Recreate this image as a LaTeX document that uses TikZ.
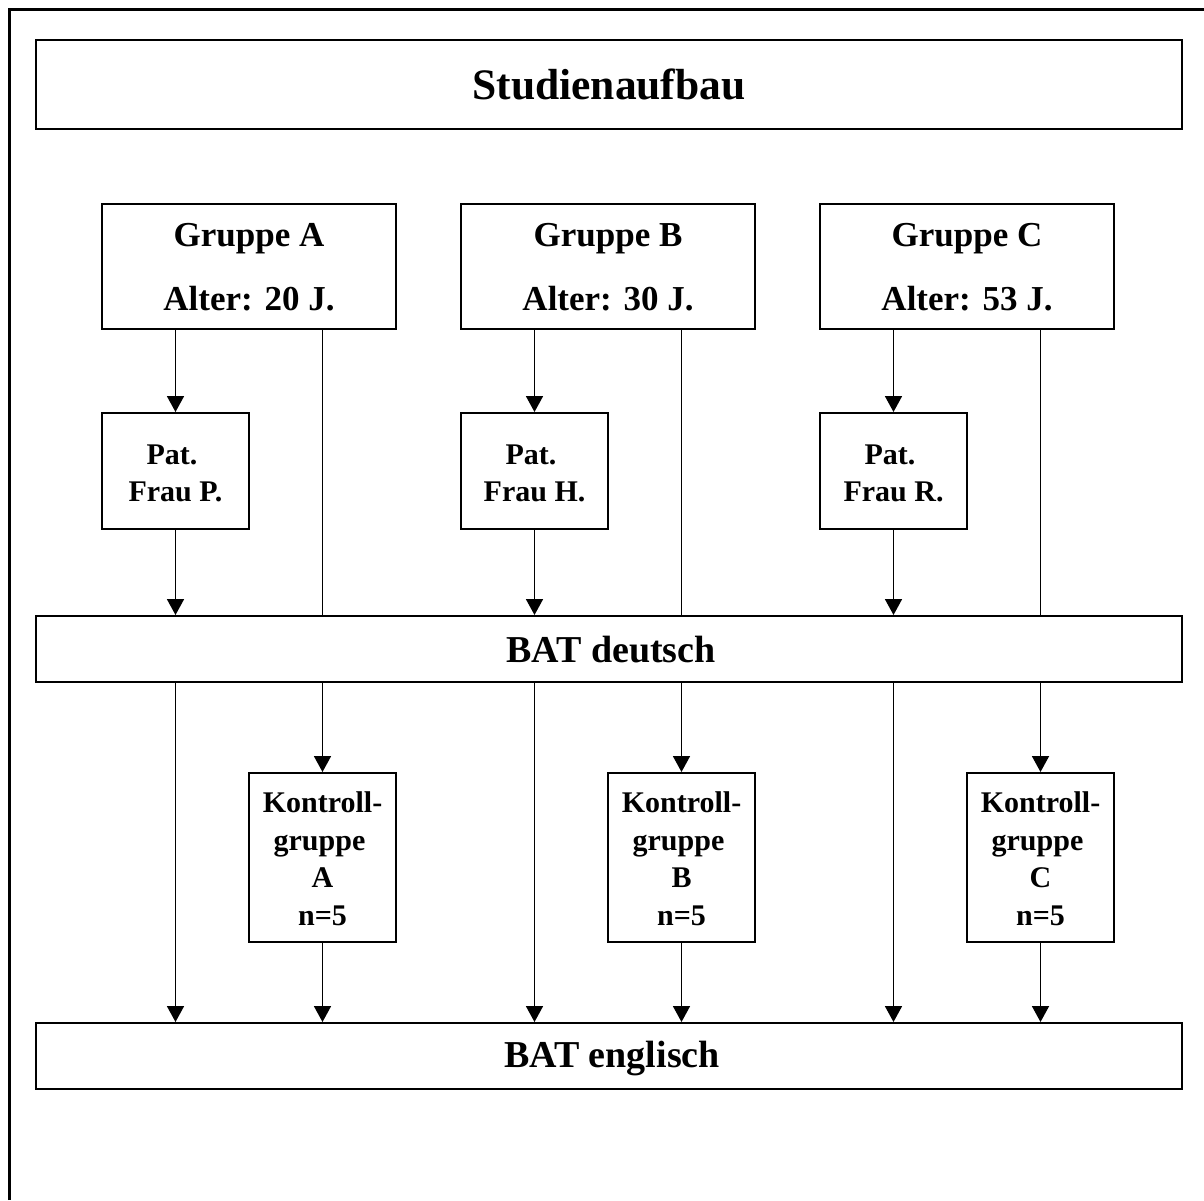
\documentclass[tikz,border=0pt]{standalone}
\usepackage{fontspec}
\setmainfont{Liberation Serif}
\usetikzlibrary{arrows.meta}
\begin{document}
\begin{tikzpicture}[x=1pt,y=-1pt,
  box/.style={draw, rectangle, line width=2pt, inner sep=0pt, fill=white},
  txt/.style={anchor=base, inner sep=0pt, font=\bfseries},
  conn/.style={line width=1.8pt},
  arr/.style={line width=1.8pt, -{Triangle[length=16pt,width=17pt]}},
  wide/.style={box, minimum width=1146pt, minimum height=66pt},
  grp/.style={box, minimum width=294pt, minimum height=125pt},
  pat/.style={box, minimum width=147pt, minimum height=116pt},
  ktr/.style={box, minimum width=147pt, minimum height=169pt},
  ftitle/.style={font=\bfseries\fontsize{43.5}{50}\selectfont},
  fbat/.style={font=\bfseries\fontsize{38}{44}\selectfont},
  fgrp/.style={font=\bfseries\fontsize{35}{40}\selectfont},
  fsmall/.style={font=\bfseries\fontsize{30}{36}\selectfont}
]
\useasboundingbox (0,0) rectangle (1204,1200);
\fill[white] (0,0) rectangle (1204,1200);
% outer frame (only top and left visible)
\coordinate (fTL) at (9,9);
\coordinate (fTR) at (1204,9);
\coordinate (fBL) at (9,1200);
\draw[line width=3pt] (fBL) -- (fTL) -- (fTR);

% boxes
\node[box, minimum width=1146pt, minimum height=89pt] (title) at (609,84.5) {};
\node[grp] (gA) at (249,266.5) {};
\node[grp] (gB) at (608,266.5) {};
\node[grp] (gC) at (967,266.5) {};
\node[pat] (pA) at (175.5,471) {};
\node[pat] (pB) at (534.5,471) {};
\node[pat] (pC) at (893.5,471) {};
\node[wide] (bd) at (609,649) {};
\node[ktr] (kA) at (322.5,857.5) {};
\node[ktr] (kB) at (681.5,857.5) {};
\node[ktr] (kC) at (1040.5,857.5) {};
\node[wide] (be) at (609,1056) {};

% texts
\node[txt, ftitle] (tTitle) at (609,99) {Studienaufbau};
\node[txt, fgrp] (tgA1) at (249,246) {Gruppe A};
\node[txt, fgrp] (tgA2) at (249,310) {Alter: 20 J.};
\node[txt, fgrp] (tgB1) at (608,246) {Gruppe B};
\node[txt, fgrp] (tgB2) at (608,310) {Alter: 30 J.};
\node[txt, fgrp] (tgC1) at (967,246) {Gruppe C};
\node[txt, fgrp] (tgC2) at (967,310) {Alter: 53 J.};
\node[txt, fsmall] (tpA1) at (172,464) {Pat.};
\node[txt, fsmall] (tpA2) at (175.5,501) {Frau P.};
\node[txt, fsmall] (tpB1) at (531,464) {Pat.};
\node[txt, fsmall] (tpB2) at (534.5,501) {Frau H.};
\node[txt, fsmall] (tpC1) at (890,464) {Pat.};
\node[txt, fsmall] (tpC2) at (893.5,501) {Frau R.};
\node[txt, fbat] (tbd) at (611,662) {BAT deutsch};
\node[txt, fbat] (tbe) at (612,1067) {BAT englisch};
\foreach \k/\x/\l in {kA/322.5/A, kB/681.5/B, kC/1040.5/C}{
  \node[txt, fsmall] (t\k1) at (\x,812) {Kontroll-};
  \node[txt, fsmall] (t\k2) at (\x-3,850.5) {gruppe};
  \node[txt, fsmall] (t\k3) at (\x,887.5) {\l};
  \node[txt, fsmall] (t\k4) at (\x,925) {n=5};
}

% connectors
\foreach \g/\p/\k in {gA/pA/kA, gB/pB/kB, gC/pC/kC}{
  \draw[arr] (\g.south -| \p.north) -- (\p.north);
  \draw[arr] (\p.south) -- (bd.north -| \p.south);
  \draw[conn] (\g.south -| \k.north) -- (bd.north -| \k.north);
  \draw[arr] (bd.south -| \p.south) -- (be.north -| \p.south);
  \draw[arr] (bd.south -| \k.north) -- (\k.north);
  \draw[arr] (\k.south) -- (be.north -| \k.south);
}
\end{tikzpicture}
\end{document}
